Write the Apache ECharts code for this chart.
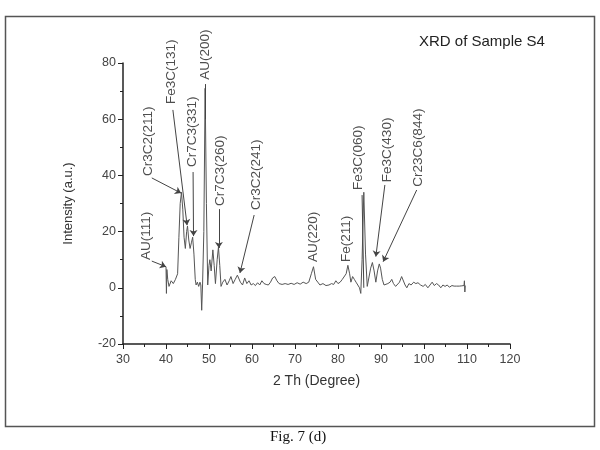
<!DOCTYPE html>
<html>
<head>
<meta charset="utf-8">
<script src="https://cdn.jsdelivr.net/npm/echarts@6/dist/echarts.min.js"></script>
<style>
  html, body { margin: 0; padding: 0; background: #fff; }
  #chart { width: 600px; height: 450px; }
</style>
</head>
<body>
<div id="chart"></div>
<script>
// XRD pattern, sample S4
const twoTheta = [
  40.0, 40.1, 40.2, 40.4, 40.7, 41.2, 41.7, 42.2, 42.7, 43.0, 43.3, 43.6, 43.9, 44.2, 44.5, 44.8,
  45.0, 45.3, 45.6, 45.9, 46.2, 46.5, 46.8, 47.0, 47.3, 47.6, 47.9, 48.1, 48.3, 48.5, 48.8, 49.1,
  49.4, 49.7, 50.0, 50.2, 50.5, 50.9, 51.2, 51.5, 51.9, 52.2, 52.5, 52.8, 53.2, 53.7, 54.2, 54.7,
  55.1, 55.6, 56.1, 56.6, 56.9, 57.3, 57.8, 58.3, 58.8, 59.3, 59.8, 60.3, 60.8, 61.3, 61.8, 62.3,
  62.8, 63.3, 63.8, 64.3, 64.8, 65.3, 65.8, 66.3, 67.0, 67.7, 68.4, 69.1, 69.8, 70.5, 71.2, 71.9,
  72.6, 73.2, 73.8, 74.3, 74.8, 75.3, 75.8, 76.5, 77.2, 77.9, 78.5, 79.0, 79.5, 80.0, 80.5, 81.0,
  81.4, 81.9, 82.3, 82.7, 83.0, 83.4, 83.8, 84.2, 84.6, 85.0, 85.3, 85.6, 86.0, 86.4, 86.8, 87.2,
  87.6, 88.0, 88.4, 88.8, 89.2, 89.6, 89.9, 90.3, 90.7, 91.1, 91.6, 92.1, 92.5, 92.9, 93.4, 93.8,
  94.3, 94.8, 95.2, 95.6, 96.0, 96.5, 97.0, 97.6, 98.1, 98.6, 99.2, 99.8, 100.3, 100.9, 101.4, 101.9,
  102.4, 102.9, 103.4, 103.9, 104.4, 104.9, 105.4, 105.9, 106.5, 107.0, 107.6, 108.2, 108.8, 109.3, 109.4, 109.5,
  109.6
];
const intensity = [
  7.5, -2, 6.5, 3, 0.5, 2.5, 1.5, 3, 5, 18, 30, 34, 28, 18, 14, 20,
  22, 17, 14, 16, 18, 12, 3, 1, 2, 0.5, 2, 1, -8, 1, 20, 71,
  30, 1, 8, 10, 6, 13.5, 8, 1.5, 10, 14.5, 8, 0.5, 2, 3, 1, 2.5,
  4, 1.5, 3, 4.5, 5, 2, 1, 3.5, 1.5, 2.5, 1, 1.5, 0.8, 1.8, 1, 2.5,
  1.5, 1.2, 1, 2, 3.5, 4, 2.5, 1.5, 1.2, 1.5, 1.2, 1.6, 1.2, 1.8, 1.3, 2,
  1.5, 2, 5, 7.5, 3, 2, 1, 1.5, 0.8, 1, 1.5, 1.2, 2.5, 1.5, 2, 3,
  2.5, 5, 8, 5, 2, 4, 3, 2, 1, 0, -2, 10, 34, 12, 0.5, 1,
  7, 9, 6, 2, 6, 8.5, 7, 3, 1, 0.5, 1.5, 2, 3, 1.5, 0.5, 1,
  2, 4, 3.5, 1, 0, 1.5, 1, 2, 1.5, 1.8, 1, 0.5, 1.2, 0, 1, 2,
  0.8, 1.5, 1, 0, 1, 0.5, 1, 0.2, 0.8, 0.6, 0.6, 0.6, 0.7, 0.8, 2.5, -1.5,
  0.8
];

// peak annotations: text anchor (bottom of rotated text) and arrow tip, in data units
const annoLabels = ['AU(111)', 'Cr3C2(211)', 'Fe3C(131)', 'Cr7C3(331)', 'AU(200)', 'Cr7C3(260)',
  'Cr3C2(241)', 'AU(220)', 'Fe(211)', 'Fe3C(060)', 'Fe3C(430)', 'Cr23C6(844)'];
const annoTextX = [35.5, 35.8, 41.3, 46.0, 49.1, 52.6, 61.1, 74.2, 82.0, 84.7, 91.4, 98.6];
const annoTextY = [9.9, 39.8, 65.4, 43.0, 74.0, 29.1, 27.7, 9.2, 9.2, 34.8, 37.6, 36.0];
const annoTipX = [40.0, 43.5, 44.9, 46.4, 49.1, 52.3, 57.2, null, null, 86.0, 88.8, 90.5];
const annoTipY = [7.5, 33.7, 22.3, 18.4, 60, 14.2, 5.3, null, null, 0, 11.1, 9.3];
const annoArrow = [true, true, true, true, false, true, true, false, false, false, true, true];
const annoStart = [[36.7, 9.5], [36.7, 39.1], [41.6, 63.3], [46.3, 41.2], [49.1, 72.5], [52.3, 28.0],
  [60.5, 25.9], null, null, [85.6, 33.0], [90.9, 36.6], [98.3, 34.8]];

const xTicks = [30, 40, 50, 60, 70, 80, 90, 100, 110, 120];
const yTicks = [-20, 0, 20, 40, 60, 80];

const chart = echarts.init(document.getElementById('chart'));

const lineData = twoTheta.map((t, i) => [t, intensity[i]]);
const textData = annoLabels.map((name, i) => ({ name: name, value: [annoTextX[i], annoTextY[i]] }));
const arrowData = [];
annoLabels.forEach((name, i) => {
  if (annoTipX[i] === null) return;
  arrowData.push([
    { coord: annoStart[i], symbol: 'none' },
    { coord: [annoTipX[i], annoTipY[i]], symbol: annoArrow[i] ? 'arrow' : 'none' }
  ]);
});

const axisFont = { fontFamily: 'Liberation Sans, Arial, sans-serif', fontSize: 12.5, color: '#444' };

chart.setOption({
  animation: false,
  backgroundColor: '#fff',
  title: {
    text: 'XRD of Sample S4',
    left: 414,
    top: 29,
    textStyle: { fontFamily: 'Liberation Sans, Arial, sans-serif', fontSize: 15, fontWeight: 'normal', color: '#222' }
  },
  grid: { left: 123, right: 90, top: 63, bottom: 106 },
  xAxis: {
    type: 'value',
    min: xTicks[0],
    max: xTicks[xTicks.length - 1],
    interval: 10,
    name: '2 Th (Degree)',
    nameLocation: 'middle',
    nameGap: 30,
    nameTextStyle: { fontFamily: 'Liberation Sans, Arial, sans-serif', fontSize: 14, color: '#333' },
    axisLine: { onZero: false, lineStyle: { color: '#222', width: 1.5 } },
    axisTick: { show: true, length: 5, lineStyle: { color: '#222' } },
    minorTick: { show: true, splitNumber: 2, length: 3, lineStyle: { color: '#222' } },
    axisLabel: Object.assign({ margin: 9 }, axisFont),
    splitLine: { show: false }
  },
  yAxis: {
    type: 'value',
    min: yTicks[0],
    max: yTicks[yTicks.length - 1],
    interval: 20,
    name: 'Intensity (a.u.)',
    nameLocation: 'middle',
    nameGap: 48,
    nameTextStyle: { fontFamily: 'Liberation Sans, Arial, sans-serif', fontSize: 13, color: '#333' },
    axisLine: { show: true, lineStyle: { color: '#222', width: 1.5 } },
    axisTick: { show: true, length: 5, lineStyle: { color: '#222' } },
    minorTick: { show: true, splitNumber: 2, length: 3, lineStyle: { color: '#222' } },
    axisLabel: Object.assign({ margin: 7 }, axisFont),
    splitLine: { show: false }
  },
  series: [
    {
      type: 'line',
      data: lineData,
      showSymbol: false,
      lineStyle: { color: '#555', width: 1 },
      markLine: {
        silent: true,
        symbolSize: 6,
        label: { show: false },
        lineStyle: { color: '#444', width: 1, type: 'solid' },
        data: arrowData
      },
      z: 3
    },
    {
      type: 'scatter',
      data: textData,
      symbolSize: 0,
      silent: true,
      label: {
        show: true,
        formatter: '{b}',
        position: 'inside',
        rotate: 90,
        align: 'left',
        verticalAlign: 'middle',
        fontFamily: 'Liberation Sans, Arial, sans-serif',
        fontSize: 13.5,
        color: '#222'
      },
      z: 4
    }
  ],
  graphic: [
    {
      type: 'rect',
      shape: { x: 5.5, y: 16.5, width: 589, height: 410 },
      style: { fill: 'none', stroke: '#555', lineWidth: 1.5 },
      silent: true
    },
    {
      type: 'text',
      x: 298,
      y: 437,
      style: {
        text: 'Fig. 7 (d)',
        fontFamily: 'Liberation Serif, Times New Roman, serif',
        fontSize: 15,
        fill: '#111',
        align: 'center',
        verticalAlign: 'middle'
      },
      silent: true
    }
  ]
});
</script>
</body>
</html>
